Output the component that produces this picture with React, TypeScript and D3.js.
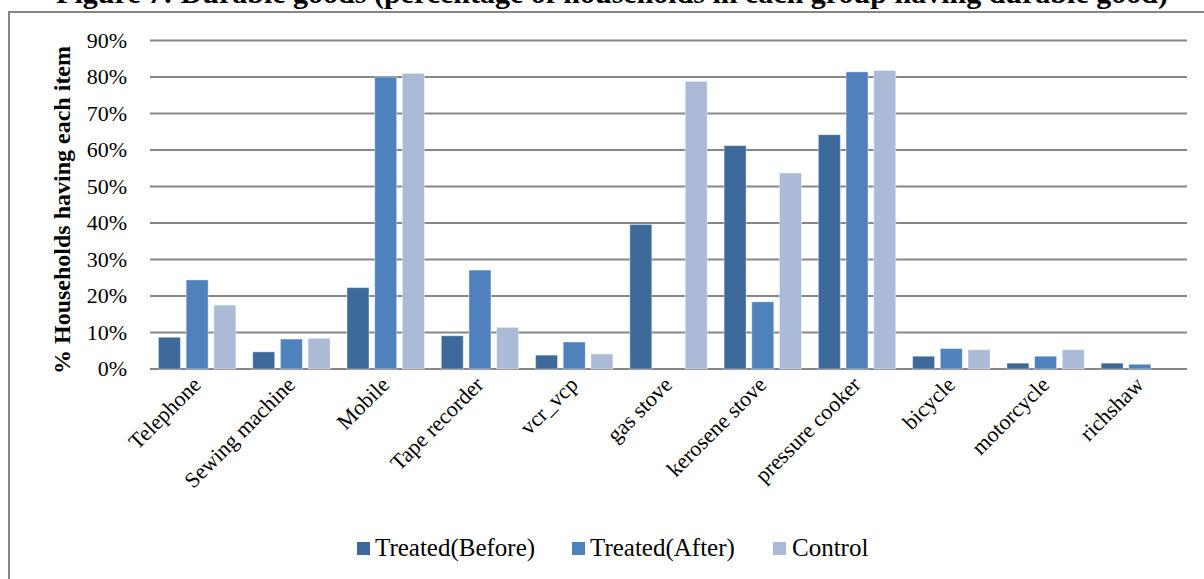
import React from "react";
import * as d3 from "d3";

const categories = [
  "Telephone",
  "Sewing machine",
  "Mobile",
  "Tape recorder",
  "vcr_vcp",
  "gas stove",
  "kerosene stove",
  "pressure cooker",
  "bicycle",
  "motorcycle",
  "richshaw",
];
const seriesNames = ["Treated(Before)", "Treated(After)", "Control"];
const treatedBefore = [8.7, 4.7, 22.3, 9.1, 3.8, 39.6, 61.2, 64.2, 3.5, 1.6, 1.6];
const treatedAfter = [24.4, 8.2, 80.0, 27.1, 7.4, 0, 18.4, 81.4, 5.6, 3.5, 1.3];
const control = [17.5, 8.4, 81.0, 11.4, 4.1, 78.8, 53.7, 81.8, 5.3, 5.3, 0];
const yTicks = [0, 10, 20, 30, 40, 50, 60, 70, 80, 90];
const colors = ["#3E6A9B", "#4F81BD", "#AABAD7"];

const W = 1204;
const H = 579;
const FONT = "'Liberation Serif', 'Times New Roman', serif";
const ts = { fontFamily: FONT };

export default function App() {
  const values = [treatedBefore, treatedAfter, control];
  const x0 = d3.scaleBand<string>().domain(categories).range([150, 1187]).paddingInner(0).paddingOuter(0);
  const x1 = d3
    .scaleBand<string>()
    .domain(seriesNames)
    .range([0, x0.bandwidth()])
    .paddingInner(0.206)
    .paddingOuter(0.305);
  const y = d3.scaleLinear().domain([0, 90]).range([369, 40.5]);

  return (
    <svg
      width={W}
      height={H}
      style={{ position: "absolute", left: 0, top: 0, background: "#fff" }}
    >
      <rect x={0} y={0} width={W} height={H} fill="#fff" />
      {/* chart border */}
      <rect x={9} y={12} width={W + 20} height={H + 20} fill="none" stroke="#868686" strokeWidth={2} />
      {/* title */}
      <text x={612} y={3} textAnchor="middle" fontSize={30} fontWeight="bold" fill="#000" style={ts}>
        Figure 7: Durable goods (percentage of households in each group having durable good)
      </text>
      {/* gridlines */}
      {yTicks.map((t) => (
        <line
          key={t}
          x1={150}
          x2={1187}
          y1={y(t)}
          y2={y(t)}
          stroke="#878787"
          strokeWidth={2}
        />
      ))}
      {/* y tick labels */}
      {yTicks.map((t) => (
        <text key={"l" + t} x={127} y={y(t) + 7} textAnchor="end" fontSize={22} fill="#000" style={ts}>
          {t}%
        </text>
      ))}
      {/* y axis title */}
      <text
        transform={`translate(70,210) rotate(-90)`}
        textAnchor="middle"
        fontSize={24}
        fontWeight="bold"
        fill="#000"
        style={ts}
      >
        % Households having each item
      </text>
      {/* bars */}
      {categories.map((c, i) => (
        <g key={c} transform={`translate(${x0(c)},0)`}>
          {seriesNames.map((s, j) => {
            const v = values[j][i];
            if (v <= 0) return null;
            return (
              <rect
                key={s}
                x={x1(s)}
                y={y(v)}
                width={x1.bandwidth()}
                height={y(0) - y(v)}
                fill={colors[j]}
                stroke="#ffffff"
                strokeOpacity={0.4}
                strokeWidth={1}
              />
            );
          })}
        </g>
      ))}
      {/* x labels */}
      {categories.map((c) => {
        const cx = (x0(c) as number) + x0.bandwidth() / 2 + 5;
        return (
          <text
            key={"x" + c}
            transform={`translate(${cx},386) rotate(-45)`}
            textAnchor="end"
            fontSize={22}
            fill="#000"
            style={ts}
          >
            {c}
          </text>
        );
      })}
      {/* legend */}
      {[
        { name: seriesNames[0], sx: 357, tx: 375 },
        { name: seriesNames[1], sx: 572, tx: 590 },
        { name: seriesNames[2], sx: 773, tx: 792 },
      ].map((l, j) => (
        <g key={l.name}>
          <rect x={l.sx} y={542} width={13} height={13} fill={colors[j]} />
          <text x={l.tx} y={556} fontSize={25} fill="#000" style={ts}>
            {l.name}
          </text>
        </g>
      ))}
    </svg>
  );
}
